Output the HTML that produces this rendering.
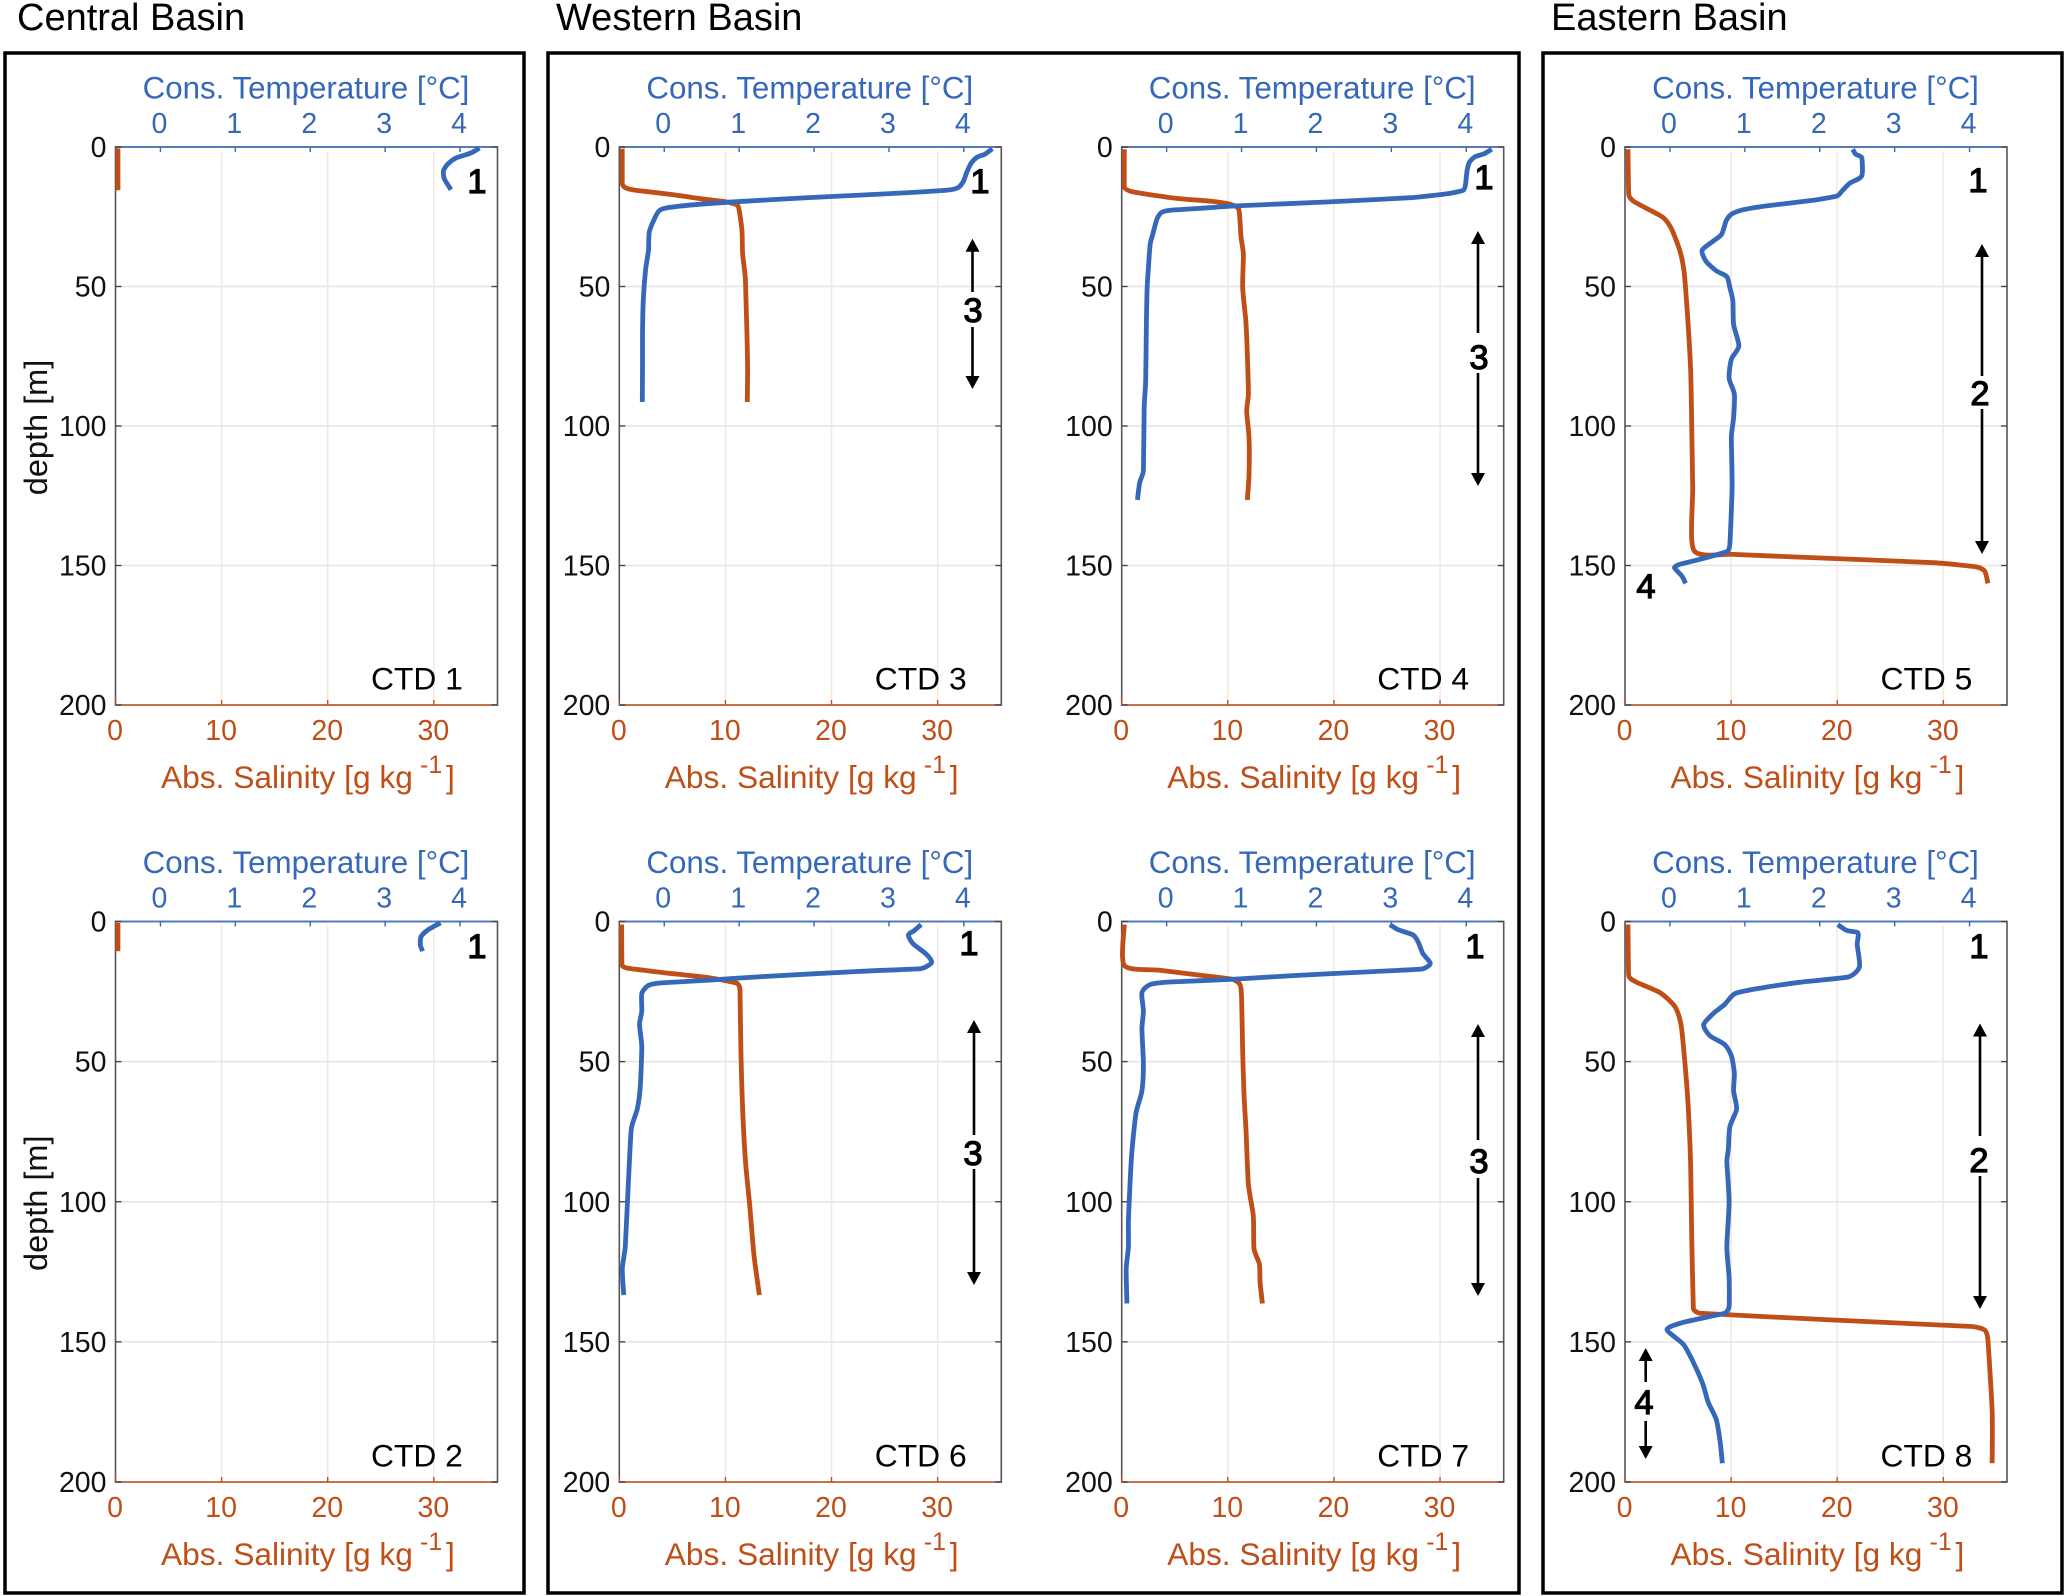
<!DOCTYPE html>
<html lang="en">
<head>
<meta charset="utf-8">
<title>CTD profiles by basin</title>
<style>
html,body{margin:0;padding:0;background:#fff;}
svg{display:block;}
text{font-family:"Liberation Sans",Arial,sans-serif;}
</style>
</head>
<body>
<svg id="figure" xmlns="http://www.w3.org/2000/svg" width="2067" height="1596" viewBox="0 0 2067 1596">
  <rect x="0" y="0" width="2067" height="1596" fill="#fff"/>
  <text x="17" y="30" font-size="38" fill="#000">Central Basin</text>
  <text x="556" y="30" font-size="38" fill="#000">Western Basin</text>
  <text x="1551" y="30" font-size="38" fill="#000">Eastern Basin</text>
  <rect x="5" y="53" width="519" height="1540" fill="none" stroke="#000" stroke-width="3.5"/>
  <rect x="548" y="53" width="971" height="1540" fill="none" stroke="#000" stroke-width="3.5"/>
  <rect x="1543" y="53" width="519" height="1540" fill="none" stroke="#000" stroke-width="3.5"/>
  <g id="panels"></g>
  <g id="annotations" fill="#000" stroke="#000" font-size="34.5" text-anchor="middle">
    <text x="477" y="193" stroke-width="1.2">1</text>
    <text x="477" y="958" stroke-width="1.2">1</text>
    <text x="980" y="193" stroke-width="1.2">1</text>
    <text x="1484" y="189" stroke-width="1.2">1</text>
    <text x="1978" y="192" stroke-width="1.2">1</text>
    <text x="969" y="955" stroke-width="1.2">1</text>
    <text x="1475" y="958" stroke-width="1.2">1</text>
    <text x="1979" y="958" stroke-width="1.2">1</text>
    <text x="973" y="322" stroke-width="1.2">3</text>
    <text x="1479" y="369" stroke-width="1.2">3</text>
    <text x="1980" y="405" stroke-width="1.2">2</text>
    <text x="1646" y="598" stroke-width="1.2">4</text>
    <text x="973" y="1165" stroke-width="1.2">3</text>
    <text x="1479" y="1173" stroke-width="1.2">3</text>
    <text x="1979" y="1172" stroke-width="1.2">2</text>
    <text x="1644" y="1414" stroke-width="1.2">4</text>
  </g>
  <g id="arrows" stroke="#000" stroke-width="2.6" fill="#000">
    <g>
      <path d="M972.5 250V292M972.5 327V378" fill="none"/><path d="M972.5 238.7l-7 13h14zM972.5 389l-7-13h14z" stroke="none"/>
    </g>
    <g>
      <path d="M1478 242V333M1478 373V475" fill="none"/><path d="M1478 231l-7 13h14zM1478 486l-7-13h14z" stroke="none"/>
    </g>
    <g>
      <path d="M1982 255V376M1982 409V543" fill="none"/><path d="M1982 244l-7 13h14zM1982 554l-7-13h14z" stroke="none"/>
    </g>
    <g>
      <path d="M974 1031V1135M974 1169V1274" fill="none"/><path d="M974 1020l-7 13h14zM974 1285l-7-13h14z" stroke="none"/>
    </g>
    <g>
      <path d="M1478 1035V1140M1478 1178V1285" fill="none"/><path d="M1478 1024l-7 13h14zM1478 1296l-7-13h14z" stroke="none"/>
    </g>
    <g>
      <path d="M1980 1034V1136M1980 1176V1298" fill="none"/><path d="M1980 1023.5l-7 13h14zM1980 1309l-7-13h14z" stroke="none"/>
    </g>
    <g>
      <path d="M1645.7 1359V1382M1645.7 1421V1448" fill="none"/><path d="M1645.7 1348l-7 13h14zM1645.7 1459l-7-13h14z" stroke="none"/>
    </g>
  </g>
</svg>
<script>
// Axis ticks
const depthTicks = [0, 50, 100, 150, 200];
const tempTicks = [0, 1, 2, 3, 4];
const salTicks = [0, 10, 20, 30];
const depthRange = [0, 200];
const tempRange = [-0.6, 4.5];
const salRange = [0, 36];

// CTD 1
const ctd1TempDepth = [0.4, 2.2, 3.9, 6, 8.4, 11.4, 15.3];
const ctd1Temp = [4.26, 4.14, 3.95, 3.84, 3.78, 3.79, 3.88];
const ctd1SalDepth = [0.5, 15.5];
const ctd1Sal = [0.23, 0.23];

// CTD 2
const ctd2TempDepth = [0.5, 3, 5.4, 8.4, 10.6];
const ctd2Temp = [3.74, 3.57, 3.48, 3.47, 3.5];
const ctd2SalDepth = [0.5, 10.6];
const ctd2Sal = [0.23, 0.23];

// CTD 3
const ctd3TempDepth = [0.6, 2.6, 3.6, 5.7, 9, 12.5, 14.6, 15.5, 16.4, 18.2, 19.6, 20.5, 21.7, 22.7, 25.1, 30.5, 37, 44.2, 55, 67, 79, 91.4];
const ctd3Temp = [4.38, 4.28, 4.18, 4.1, 4.04, 3.99, 3.92, 3.77, 3.24, 1.9, 0.97, 0.48, 0.06, -0.06, -0.12, -0.2, -0.21, -0.25, -0.28, -0.29, -0.29, -0.293];
const ctd3SalDepth = [0.6, 13.1, 14.6, 15.5, 17.1, 18.5, 19.6, 20.8, 22.7, 29.9, 38.2, 46.6, 55, 67, 79, 91.4];
const ctd3Sal = [0.28, 0.28, 0.57, 1.5, 5.1, 7.6, 10, 11.1, 11.3, 11.56, 11.62, 11.87, 11.94, 12.03, 12.09, 12.06];

// CTD 4
const ctd4TempDepth = [0.8, 2.4, 3.6, 5.6, 8.6, 13.4, 15.5, 16.7, 18.2, 19.7, 21.1, 22, 22.7, 23.5, 25.9, 30.7, 34.9, 42, 50.4, 62.4, 83.9, 93.4, 116, 120.3, 126.5];
const ctd4Temp = [4.34, 4.24, 4.11, 4.04, 4.01, 3.99, 3.96, 3.76, 3.24, 2.13, 0.93, 0.44, 0.04, -0.07, -0.13, -0.18, -0.22, -0.24, -0.26, -0.27, -0.28, -0.3, -0.31, -0.36, -0.39];
const ctd4SalDepth = [0.8, 14.3, 15.8, 16.7, 18.4, 19.4, 20.5, 22.1, 26.5, 32.5, 38.5, 50.4, 62.4, 74.3, 88.6, 94.6, 104.2, 117.3, 126.5];
const ctd4Sal = [0.25, 0.25, 0.79, 2.04, 5.18, 8.3, 10.2, 11, 11.15, 11.25, 11.47, 11.4, 11.7, 11.84, 11.94, 11.78, 12, 12, 11.84];

// CTD 5
const ctd5TempDepth = [0.8, 2.6, 3.8, 10.4, 13, 16, 17.6, 19.1, 21.1, 22.6, 24.1, 26.5, 31.3, 33.7, 37, 40.9, 44.4, 46.5, 50.4, 55.2, 63.6, 71.3, 76.1, 82.9, 88.6, 97, 104, 122, 142.4, 145, 147.8, 149.6, 150.8, 153.8, 156.4];
const ctd5Temp = [2.44, 2.48, 2.56, 2.56, 2.4, 2.29, 2.23, 1.91, 1.29, 0.96, 0.82, 0.75, 0.69, 0.58, 0.43, 0.48, 0.62, 0.76, 0.8, 0.84, 0.85, 0.92, 0.82, 0.79, 0.86, 0.85, 0.82, 0.83, 0.8, 0.76, 0.4, 0.13, 0.06, 0.16, 0.21];
const ctd5SalDepth = [0.8, 17, 19.4, 22, 25.3, 29.5, 37.3, 44.4, 52.8, 64.8, 80.3, 98.2, 122, 144.6, 146, 147.5, 149, 150.5, 152, 156.4];
const ctd5Sal = [0.28, 0.35, 0.79, 2.04, 3.6, 4.4, 5.18, 5.56, 5.75, 5.97, 6.19, 6.28, 6.38, 6.5, 10.2, 19.6, 29.1, 33.1, 33.9, 34.2];

// CTD 6
const ctd6TempDepth = [1.1, 3.2, 4.8, 7.9, 11.7, 14.6, 16.8, 17.8, 19.7, 20.9, 21.9, 22.8, 25.7, 32, 36.8, 44.7, 59, 66.9, 74, 93.8, 116, 124, 133.3];
const ctd6Temp = [3.43, 3.34, 3.26, 3.32, 3.5, 3.57, 3.43, 2.61, 1.28, 0.61, -0.04, -0.21, -0.3, -0.3, -0.33, -0.3, -0.32, -0.36, -0.44, -0.48, -0.52, -0.56, -0.54];
const ctd6SalDepth = [1.1, 15.4, 16.6, 18.1, 20.1, 22, 24.1, 47.9, 66.9, 86, 101.7, 119, 133.3];
const ctd6Sal = [0.22, 0.25, 0.69, 3.83, 8.55, 11.06, 11.37, 11.47, 11.62, 11.9, 12.3, 12.69, 13.2];

// CTD 7
const ctd7TempDepth = [1.1, 2.9, 4.8, 7.4, 11.4, 15, 17, 18.1, 19.3, 20.6, 21.6, 22.5, 25.4, 32, 38.4, 51, 60.5, 68.5, 84.3, 106.5, 116, 124, 136.3];
const ctd7Temp = [2.98, 3.09, 3.29, 3.36, 3.42, 3.52, 3.4, 2.58, 1.69, 0.89, 0.04, -0.22, -0.33, -0.31, -0.33, -0.31, -0.33, -0.41, -0.47, -0.51, -0.51, -0.54, -0.53];
const ctd7SalDepth = [1.1, 15.7, 17.4, 19.3, 20.6, 22.5, 27.3, 46.3, 62.1, 74.8, 93.8, 105, 116.8, 122.3, 128.7, 136.3];
const ctd7Sal = [0.25, 0.25, 3.6, 7.7, 10.4, 11.15, 11.3, 11.4, 11.53, 11.72, 11.94, 12.4, 12.47, 12.98, 13.04, 13.26];

// CTD 8
const ctd8TempDepth = [1.1, 3.2, 4.1, 8.2, 16.2, 19.8, 21.7, 23.8, 25.7, 29.6, 32.8, 36.8, 40.7, 43.9, 47.9, 54.2, 60.5, 66.9, 73.2, 81.1, 85.9, 100.2, 116, 127.1, 137.4, 139.8, 143, 145.6, 150.9, 157.2, 165.1, 171.5, 177.8, 185.7, 193.3];
const ctd8Temp = [2.24, 2.36, 2.51, 2.5, 2.53, 2.38, 1.73, 1.2, 0.87, 0.73, 0.58, 0.45, 0.53, 0.73, 0.82, 0.86, 0.85, 0.89, 0.8, 0.78, 0.76, 0.79, 0.76, 0.79, 0.79, 0.73, 0.18, -0.04, 0.18, 0.31, 0.44, 0.51, 0.62, 0.67, 0.7];
const ctd8SalDepth = [1.1, 19.3, 21.7, 25.4, 30.4, 36.8, 51, 66.9, 87.5, 111, 138, 139.8, 142.2, 144.5, 145.8, 149.3, 174.6, 193.3];
const ctd8Sal = [0.28, 0.35, 1.1, 3.3, 4.71, 5.28, 5.66, 5.97, 6.19, 6.28, 6.44, 7.07, 19.6, 32.7, 33.9, 34.2, 34.6, 34.6];

const SVGNS = 'http://www.w3.org/2000/svg';
const BLUE = '#3568b8';
const ORANGE = '#c04e17';
const AXIS_WIDTH = 382;

function make(parent, tag, props) {
  const node = document.createElementNS(SVGNS, tag);
  for (const key in props) node.setAttribute(key, props[key]);
  parent.appendChild(node);
  return node;
}

function scale(range, pixelStart, pixelEnd) {
  return function (value) {
    return pixelStart + (value - range[0]) / (range[1] - range[0]) * (pixelEnd - pixelStart);
  };
}

// Control-point offset along the neighbour chord, capped by the segment length so sharp turns do not overshoot.
function handle(prev, next, segment) {
  const dx = next[0] - prev[0];
  const dy = next[1] - prev[1];
  const chord = Math.hypot(dx, dy) || 1;
  const len = Math.min(chord * 0.12, Math.hypot(segment[0], segment[1]) * 0.3);
  return [dx / chord * len, dy / chord * len];
}

// Lightly smoothed line through every sampled point.
function profilePath(depths, values, xAxis, yAxis) {
  const pts = depths.map(function (d, i) { return [xAxis(values[i]), yAxis(d)]; });
  let path = 'M' + pts[0][0].toFixed(2) + ' ' + pts[0][1].toFixed(2);
  for (let i = 0; i < pts.length - 1; i++) {
    const p0 = pts[Math.max(i - 1, 0)];
    const p1 = pts[i];
    const p2 = pts[i + 1];
    const p3 = pts[Math.min(i + 2, pts.length - 1)];
    const seg = [p2[0] - p1[0], p2[1] - p1[1]];
    const shortSide1 = Math.hypot(p1[0] - p0[0], p1[1] - p0[1]) || Infinity;
    const shortSide2 = Math.hypot(p3[0] - p2[0], p3[1] - p2[1]) || Infinity;
    const segLen = Math.hypot(seg[0], seg[1]);
    const h1 = handle(p0, p2, [Math.min(segLen, shortSide1), 0]);
    const h2 = handle(p1, p3, [Math.min(segLen, shortSide2), 0]);
    path += 'C' + (p1[0] + h1[0]).toFixed(2) + ' ' + (p1[1] + h1[1]).toFixed(2) + ' ' + (p2[0] - h2[0]).toFixed(2) + ' ' + (p2[1] - h2[1]).toFixed(2) + ' ' + p2[0].toFixed(2) + ' ' + p2[1].toFixed(2);
  }
  return path;
}

function drawPanel(label, left, top, height, showDepthTitle, tempDepth, temp, salDepth, sal) {
  const right = left + AXIS_WIDTH;
  const bottom = top + height;
  const xTemp = scale(tempRange, left, right);
  const xSal = scale(salRange, left, right);
  const y = scale(depthRange, top, bottom);
  const root = document.getElementById('panels');

  const panel = make(root, 'g', {});
  
  

  // gridlines
  depthTicks.slice(1, -1).forEach(function (d) {
    const grid = make(panel, 'line', { x1: left + 6, x2: right - 6, y1: y(d), y2: y(d), stroke: '#e6e3e3', 'stroke-width': 1.5 });
    
    
  });
  salTicks.slice(1).forEach(function (s) {
    const grid = make(panel, 'line', { x1: xSal(s), x2: xSal(s), y1: top + 4, y2: bottom - 4, stroke: '#f7e5e0', 'stroke-width': 1.5 });
    
    
  });

  // axes box
  const box = make(panel, 'rect', { x: left, y: top, width: AXIS_WIDTH, height: height, fill: 'none', stroke: '#555', 'stroke-width': 1.6 });
  
  
  const topAxis = make(panel, 'line', { x1: left, x2: right - 6, y1: top, y2: top, stroke: '#4a78c0', 'stroke-width': 1.8 });
  
  
  const bottomAxis = make(panel, 'line', { x1: left + 6, x2: right - 6, y1: bottom, y2: bottom, stroke: '#cf6a3e', 'stroke-width': 1.8 });
  
  

  // depth ticks and labels
  depthTicks.forEach(function (d) {
    const tickL = make(panel, 'line', { x1: left, x2: left + 6, y1: y(d), y2: y(d), stroke: '#444', 'stroke-width': 1.4 });
    
    
    const tickR = make(panel, 'line', { x1: right - 6, x2: right, y1: y(d), y2: y(d), stroke: '#444', 'stroke-width': 1.4 });
    
    
    const text = make(panel, 'text', { x: left - 9, y: y(d) + 10, 'text-anchor': 'end', 'font-size': 28.5, fill: '#111' });
    text.textContent = d;
    
    
  });

  // temperature ticks and labels
  tempTicks.forEach(function (t) {
    const tick = make(panel, 'line', { x1: xTemp(t), x2: xTemp(t), y1: top, y2: top + 5, stroke: BLUE, 'stroke-width': 1.4 });
    
    
    const text = make(panel, 'text', { x: xTemp(t) - 1, y: top - 14, 'text-anchor': 'middle', 'font-size': 28.5, fill: BLUE });
    text.textContent = t;
    
    
  });

  // salinity ticks and labels
  salTicks.forEach(function (s) {
    const tick = make(panel, 'line', { x1: xSal(s), x2: xSal(s), y1: bottom - 5, y2: bottom, stroke: ORANGE, 'stroke-width': 1.4 });
    
    
    const text = make(panel, 'text', { x: xSal(s) - 0.5, y: bottom + 35, 'text-anchor': 'middle', 'font-size': 28.5, fill: ORANGE });
    text.textContent = s;
    
    
  });

  // axis titles
  const tempTitle = make(panel, 'text', { x: left + 190.5, y: top - 48.7, 'text-anchor': 'middle', 'font-size': 31.3, fill: BLUE });
  tempTitle.textContent = 'Cons. Temperature [°C]';
  
  

  const salTitle = make(panel, 'text', { x: left + 45.5, y: bottom + 83, 'font-size': 31.7, fill: ORANGE });
  
  
  const salMain = make(salTitle, 'tspan', {});
  salMain.textContent = 'Abs. Salinity [g kg';
  const salSup = make(salTitle, 'tspan', { x: left + 304.5, dy: -15, 'font-size': 25 });
  salSup.textContent = '-1';
  const salEnd = make(salTitle, 'tspan', { x: left + 330.5, dy: 15 });
  salEnd.textContent = ']';

  if (showDepthTitle) {
    const depthTitle = make(panel, 'text', { transform: 'translate(47 ' + (top + height / 2 + 1.5) + ') rotate(-90)', 'text-anchor': 'middle', 'font-size': 32.5, fill: '#111' });
    depthTitle.textContent = 'depth [m]';
    
    
  }

  const name = make(panel, 'text', { x: left + 255.5, y: bottom - 15.5, 'font-size': 31.8, fill: '#000' });
  name.textContent = label;
  
  

  // series
  const salLine = make(panel, 'path', { d: profilePath(salDepth, sal, xSal, y), fill: 'none', stroke: ORANGE, 'stroke-width': 4.8, 'stroke-linejoin': 'round' });
  
  
  const tempLine = make(panel, 'path', { d: profilePath(tempDepth, temp, xTemp, y), fill: 'none', stroke: BLUE, 'stroke-width': 4.8, 'stroke-linejoin': 'round' });
  
  
}

drawPanel('CTD 1', 115.5, 147, 558, true, ctd1TempDepth, ctd1Temp, ctd1SalDepth, ctd1Sal);
drawPanel('CTD 3', 619.3, 147, 558, false, ctd3TempDepth, ctd3Temp, ctd3SalDepth, ctd3Sal);
drawPanel('CTD 4', 1121.7, 147, 558, false, ctd4TempDepth, ctd4Temp, ctd4SalDepth, ctd4Sal);
drawPanel('CTD 5', 1625, 147, 558, false, ctd5TempDepth, ctd5Temp, ctd5SalDepth, ctd5Sal);
drawPanel('CTD 2', 115.5, 921.5, 560.5, true, ctd2TempDepth, ctd2Temp, ctd2SalDepth, ctd2Sal);
drawPanel('CTD 6', 619.3, 921.5, 560.5, false, ctd6TempDepth, ctd6Temp, ctd6SalDepth, ctd6Sal);
drawPanel('CTD 7', 1121.7, 921.5, 560.5, false, ctd7TempDepth, ctd7Temp, ctd7SalDepth, ctd7Sal);
drawPanel('CTD 8', 1625, 921.5, 560.5, false, ctd8TempDepth, ctd8Temp, ctd8SalDepth, ctd8Sal);
</script>
</body>
</html>
